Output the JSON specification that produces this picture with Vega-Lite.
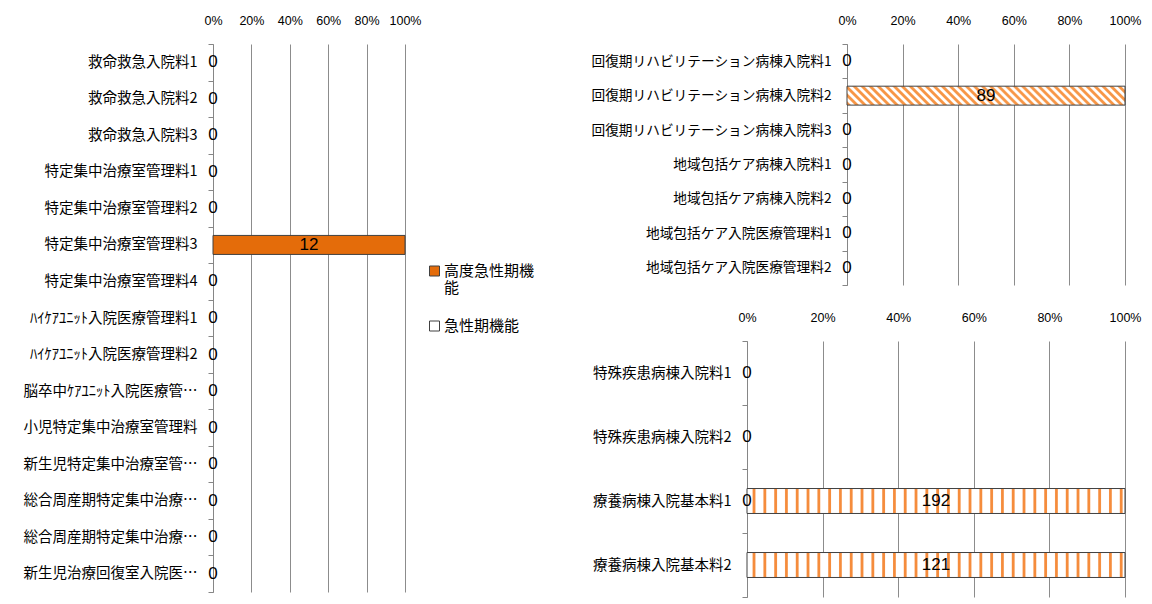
{
  "$schema": "https://vega.github.io/schema/vega-lite/v6.json",
  "background": "#FFFFFF",
  "padding": {"left": 23, "top": 14, "right": 0, "bottom": 0},
  "datasets": {
    "left": [
      {"cat": "救命救急入院料1", "series": "高度急性期機能", "value": 0},
      {"cat": "救命救急入院料2", "series": "高度急性期機能", "value": 0},
      {"cat": "救命救急入院料3", "series": "高度急性期機能", "value": 0},
      {"cat": "特定集中治療室管理料1", "series": "高度急性期機能", "value": 0},
      {"cat": "特定集中治療室管理料2", "series": "高度急性期機能", "value": 0},
      {"cat": "特定集中治療室管理料3", "series": "高度急性期機能", "value": 12},
      {"cat": "特定集中治療室管理料4", "series": "高度急性期機能", "value": 0},
      {"cat": "ﾊｲｹｱﾕﾆｯﾄ入院医療管理料1", "series": "高度急性期機能", "value": 0},
      {"cat": "ﾊｲｹｱﾕﾆｯﾄ入院医療管理料2", "series": "高度急性期機能", "value": 0},
      {"cat": "脳卒中ｹｱﾕﾆｯﾄ入院医療管…", "series": "高度急性期機能", "value": 0},
      {"cat": "小児特定集中治療室管理料", "series": "高度急性期機能", "value": 0},
      {"cat": "新生児特定集中治療室管…", "series": "高度急性期機能", "value": 0},
      {"cat": "総合周産期特定集中治療…", "series": "高度急性期機能", "value": 0},
      {"cat": "総合周産期特定集中治療…\u200b", "series": "高度急性期機能", "value": 0},
      {"cat": "新生児治療回復室入院医…", "series": "高度急性期機能", "value": 0}
    ],
    "tr": [
      {"cat": "回復期リハビリテーション病棟入院料1", "series": "回復期機能", "value": 0},
      {"cat": "回復期リハビリテーション病棟入院料2", "series": "回復期機能", "value": 89},
      {"cat": "回復期リハビリテーション病棟入院料3", "series": "回復期機能", "value": 0},
      {"cat": "地域包括ケア病棟入院料1", "series": "回復期機能", "value": 0},
      {"cat": "地域包括ケア病棟入院料2", "series": "回復期機能", "value": 0},
      {"cat": "地域包括ケア入院医療管理料1", "series": "回復期機能", "value": 0},
      {"cat": "地域包括ケア入院医療管理料2", "series": "回復期機能", "value": 0}
    ],
    "br": [
      {"cat": "特殊疾患病棟入院料1", "series": "慢性期機能", "value": 0},
      {"cat": "特殊疾患病棟入院料2", "series": "慢性期機能", "value": 0},
      {"cat": "療養病棟入院基本料1", "series": "回復期機能", "value": 0},
      {"cat": "療養病棟入院基本料1", "series": "慢性期機能", "value": 192},
      {"cat": "療養病棟入院基本料2", "series": "慢性期機能", "value": 121}
    ]
  },
  "columns": 2,
  "align": "none",
  "spacing": 55,
  "resolve": {"scale": {"color": "independent"}, "legend": {"color": "independent"}},
  "concat": [
    {
      "width": 192,
      "height": 548,
      "data": {"name": "left"},
      "layer": [
        {
          "mark": {"type": "bar", "height": {"band": 0.52}, "stroke": "#404040"},
          "encoding": {
            "y": {"field": "cat", "type": "nominal", "sort": null, "scale": {"paddingInner": 0, "paddingOuter": 0}, "axis": {"title": null}},
            "x": {"field": "value", "type": "quantitative", "stack": "normalize", "scale": {"domain": [0, 1]}, "axis": {"orient": "top", "title": null, "format": ".0%", "values": [0, 0.2, 0.4, 0.6, 0.8, 1]}},
            "strokeWidth": {"condition": {"test": "datum.value == 0", "value": 0}, "value": 1},
            "color": {
              "field": "series", "type": "nominal",
              "scale": {"domain": ["高度急性期機能", "急性期機能"], "range": ["#E46C0A", "#FFFFFF"]},
              "legend": {
                "title": null, "orient": "none", "legendX": 214, "legendY": 212,
                "symbolType": "M-1,0.5H1V2.5H-1Z", "symbolSize": 100, "symbolStrokeColor": "#404040", "symbolStrokeWidth": 1,
                "labelFont": "Noto Sans CJK JP", "labelFontSize": 15, "labelColor": "#000000", "labelLimit": 200,
                "labelExpr": "datum.label == '高度急性期機能' ? ['高度急性期機', '能'] : datum.label",
                "labelBaseline": "top", "labelOffset": 2, "rowPadding": 15
              }
            }
          }
        },
        {
          "mark": {"type": "text", "font": "Liberation Sans", "fontSize": 17, "color": "#000000", "align": "center", "baseline": "middle"},
          "transform": [{"filter": "datum.value == 0"}],
          "encoding": {
            "y": {"field": "cat", "type": "nominal", "sort": null},
            "x": {"datum": 0, "type": "quantitative"},
            "text": {"field": "value", "type": "quantitative"}
          }
        },
        {
          "mark": {"type": "text", "font": "Liberation Sans", "fontSize": 17, "color": "#000000", "align": "center", "baseline": "middle"},
          "transform": [{"filter": "datum.value > 0"}],
          "encoding": {
            "y": {"field": "cat", "type": "nominal", "sort": null},
            "x": {"datum": 0.5, "type": "quantitative"},
            "text": {"field": "value", "type": "quantitative"}
          }
        }
      ]
    },
    {
      "spacing": 25,
      "vconcat": [
        {
          "width": 278,
          "height": 241,
          "data": {"name": "tr"},
          "layer": [
            {
              "mark": {"type": "bar", "height": {"band": 0.55}, "stroke": "#404040"},
              "encoding": {
                "y": {"field": "cat", "type": "nominal", "sort": null, "scale": {"paddingInner": 0, "paddingOuter": 0}, "axis": {"title": null, "labelFontSize": 13.7}},
                "x": {"field": "value", "type": "quantitative", "stack": "normalize", "scale": {"domain": [0, 1]}, "axis": {"orient": "top", "title": null, "format": ".0%", "values": [0, 0.2, 0.4, 0.6, 0.8, 1]}},
                "strokeWidth": {"condition": {"test": "datum.value == 0", "value": 0}, "value": 1},
                "fill": {
                  "condition": {"test": "datum.series === '回復期機能'", "value": {"gradient": "linear", "x1": 0, "y1": 1, "x2": 1.0633, "y2": 0.9274, "stops": [
                    {"offset": 0.0027, "color": "#F79646"}, {"offset": 0.0108, "color": "#F79646"}, {"offset": 0.0162, "color": "#FFFFFF"}, {"offset": 0.0243, "color": "#FFFFFF"},
                    {"offset": 0.0297, "color": "#F79646"}, {"offset": 0.0378, "color": "#F79646"}, {"offset": 0.0432, "color": "#FFFFFF"}, {"offset": 0.0513, "color": "#FFFFFF"},
                    {"offset": 0.0568, "color": "#F79646"}, {"offset": 0.0649, "color": "#F79646"}, {"offset": 0.0703, "color": "#FFFFFF"}, {"offset": 0.0784, "color": "#FFFFFF"},
                    {"offset": 0.0838, "color": "#F79646"}, {"offset": 0.0919, "color": "#F79646"}, {"offset": 0.0973, "color": "#FFFFFF"}, {"offset": 0.1054, "color": "#FFFFFF"},
                    {"offset": 0.1108, "color": "#F79646"}, {"offset": 0.1189, "color": "#F79646"}, {"offset": 0.1243, "color": "#FFFFFF"}, {"offset": 0.1324, "color": "#FFFFFF"},
                    {"offset": 0.1378, "color": "#F79646"}, {"offset": 0.1459, "color": "#F79646"}, {"offset": 0.1514, "color": "#FFFFFF"}, {"offset": 0.1595, "color": "#FFFFFF"},
                    {"offset": 0.1649, "color": "#F79646"}, {"offset": 0.1730, "color": "#F79646"}, {"offset": 0.1784, "color": "#FFFFFF"}, {"offset": 0.1865, "color": "#FFFFFF"},
                    {"offset": 0.1919, "color": "#F79646"}, {"offset": 0.2000, "color": "#F79646"}, {"offset": 0.2054, "color": "#FFFFFF"}, {"offset": 0.2135, "color": "#FFFFFF"},
                    {"offset": 0.2189, "color": "#F79646"}, {"offset": 0.2270, "color": "#F79646"}, {"offset": 0.2324, "color": "#FFFFFF"}, {"offset": 0.2405, "color": "#FFFFFF"},
                    {"offset": 0.2459, "color": "#F79646"}, {"offset": 0.2541, "color": "#F79646"}, {"offset": 0.2595, "color": "#FFFFFF"}, {"offset": 0.2676, "color": "#FFFFFF"},
                    {"offset": 0.2730, "color": "#F79646"}, {"offset": 0.2811, "color": "#F79646"}, {"offset": 0.2865, "color": "#FFFFFF"}, {"offset": 0.2946, "color": "#FFFFFF"},
                    {"offset": 0.3000, "color": "#F79646"}, {"offset": 0.3081, "color": "#F79646"}, {"offset": 0.3135, "color": "#FFFFFF"}, {"offset": 0.3216, "color": "#FFFFFF"},
                    {"offset": 0.3270, "color": "#F79646"}, {"offset": 0.3351, "color": "#F79646"}, {"offset": 0.3405, "color": "#FFFFFF"}, {"offset": 0.3486, "color": "#FFFFFF"},
                    {"offset": 0.3541, "color": "#F79646"}, {"offset": 0.3622, "color": "#F79646"}, {"offset": 0.3676, "color": "#FFFFFF"}, {"offset": 0.3757, "color": "#FFFFFF"},
                    {"offset": 0.3811, "color": "#F79646"}, {"offset": 0.3892, "color": "#F79646"}, {"offset": 0.3946, "color": "#FFFFFF"}, {"offset": 0.4027, "color": "#FFFFFF"},
                    {"offset": 0.4081, "color": "#F79646"}, {"offset": 0.4162, "color": "#F79646"}, {"offset": 0.4216, "color": "#FFFFFF"}, {"offset": 0.4297, "color": "#FFFFFF"},
                    {"offset": 0.4351, "color": "#F79646"}, {"offset": 0.4432, "color": "#F79646"}, {"offset": 0.4486, "color": "#FFFFFF"}, {"offset": 0.4568, "color": "#FFFFFF"},
                    {"offset": 0.4622, "color": "#F79646"}, {"offset": 0.4703, "color": "#F79646"}, {"offset": 0.4757, "color": "#FFFFFF"}, {"offset": 0.4838, "color": "#FFFFFF"},
                    {"offset": 0.4892, "color": "#F79646"}, {"offset": 0.4973, "color": "#F79646"}, {"offset": 0.5027, "color": "#FFFFFF"}, {"offset": 0.5108, "color": "#FFFFFF"},
                    {"offset": 0.5162, "color": "#F79646"}, {"offset": 0.5243, "color": "#F79646"}, {"offset": 0.5297, "color": "#FFFFFF"}, {"offset": 0.5378, "color": "#FFFFFF"},
                    {"offset": 0.5432, "color": "#F79646"}, {"offset": 0.5514, "color": "#F79646"}, {"offset": 0.5568, "color": "#FFFFFF"}, {"offset": 0.5649, "color": "#FFFFFF"},
                    {"offset": 0.5703, "color": "#F79646"}, {"offset": 0.5784, "color": "#F79646"}, {"offset": 0.5838, "color": "#FFFFFF"}, {"offset": 0.5919, "color": "#FFFFFF"},
                    {"offset": 0.5973, "color": "#F79646"}, {"offset": 0.6054, "color": "#F79646"}, {"offset": 0.6108, "color": "#FFFFFF"}, {"offset": 0.6189, "color": "#FFFFFF"},
                    {"offset": 0.6243, "color": "#F79646"}, {"offset": 0.6324, "color": "#F79646"}, {"offset": 0.6378, "color": "#FFFFFF"}, {"offset": 0.6459, "color": "#FFFFFF"},
                    {"offset": 0.6514, "color": "#F79646"}, {"offset": 0.6595, "color": "#F79646"}, {"offset": 0.6649, "color": "#FFFFFF"}, {"offset": 0.6730, "color": "#FFFFFF"},
                    {"offset": 0.6784, "color": "#F79646"}, {"offset": 0.6865, "color": "#F79646"}, {"offset": 0.6919, "color": "#FFFFFF"}, {"offset": 0.7000, "color": "#FFFFFF"},
                    {"offset": 0.7054, "color": "#F79646"}, {"offset": 0.7135, "color": "#F79646"}, {"offset": 0.7189, "color": "#FFFFFF"}, {"offset": 0.7270, "color": "#FFFFFF"},
                    {"offset": 0.7324, "color": "#F79646"}, {"offset": 0.7405, "color": "#F79646"}, {"offset": 0.7459, "color": "#FFFFFF"}, {"offset": 0.7541, "color": "#FFFFFF"},
                    {"offset": 0.7595, "color": "#F79646"}, {"offset": 0.7676, "color": "#F79646"}, {"offset": 0.7730, "color": "#FFFFFF"}, {"offset": 0.7811, "color": "#FFFFFF"},
                    {"offset": 0.7865, "color": "#F79646"}, {"offset": 0.7946, "color": "#F79646"}, {"offset": 0.8000, "color": "#FFFFFF"}, {"offset": 0.8081, "color": "#FFFFFF"},
                    {"offset": 0.8135, "color": "#F79646"}, {"offset": 0.8216, "color": "#F79646"}, {"offset": 0.8270, "color": "#FFFFFF"}, {"offset": 0.8351, "color": "#FFFFFF"},
                    {"offset": 0.8405, "color": "#F79646"}, {"offset": 0.8486, "color": "#F79646"}, {"offset": 0.8541, "color": "#FFFFFF"}, {"offset": 0.8622, "color": "#FFFFFF"},
                    {"offset": 0.8676, "color": "#F79646"}, {"offset": 0.8757, "color": "#F79646"}, {"offset": 0.8811, "color": "#FFFFFF"}, {"offset": 0.8892, "color": "#FFFFFF"},
                    {"offset": 0.8946, "color": "#F79646"}, {"offset": 0.9027, "color": "#F79646"}, {"offset": 0.9081, "color": "#FFFFFF"}, {"offset": 0.9162, "color": "#FFFFFF"},
                    {"offset": 0.9216, "color": "#F79646"}, {"offset": 0.9297, "color": "#F79646"}, {"offset": 0.9351, "color": "#FFFFFF"}, {"offset": 0.9432, "color": "#FFFFFF"},
                    {"offset": 0.9486, "color": "#F79646"}, {"offset": 0.9568, "color": "#F79646"}, {"offset": 0.9622, "color": "#FFFFFF"}, {"offset": 0.9703, "color": "#FFFFFF"},
                    {"offset": 0.9757, "color": "#F79646"}, {"offset": 0.9838, "color": "#F79646"}, {"offset": 0.9892, "color": "#FFFFFF"}, {"offset": 0.9973, "color": "#FFFFFF"}
                  ]}},
                  "value": "#F58C3C"
                }
              }
            },
            {
              "mark": {"type": "text", "font": "Liberation Sans", "fontSize": 17, "color": "#000000", "align": "center", "baseline": "middle"},
              "transform": [{"filter": "datum.value == 0"}],
              "encoding": {
                "y": {"field": "cat", "type": "nominal", "sort": null},
                "x": {"datum": 0, "type": "quantitative"},
                "text": {"field": "value", "type": "quantitative"}
              }
            },
            {
              "mark": {"type": "text", "font": "Liberation Sans", "fontSize": 17, "color": "#000000", "align": "center", "baseline": "middle"},
              "transform": [{"filter": "datum.value > 0"}],
              "encoding": {
                "y": {"field": "cat", "type": "nominal", "sort": null},
                "x": {"datum": 0.5, "type": "quantitative"},
                "text": {"field": "value", "type": "quantitative"}
              }
            }
          ]
        },
        {
          "width": 278,
          "height": 256,
          "data": {"name": "br"},
          "layer": [
            {
              "mark": {"type": "bar", "height": {"band": 0.39}, "stroke": "#404040"},
              "encoding": {
                "y": {"field": "cat", "type": "nominal", "sort": null, "scale": {"paddingInner": 0, "paddingOuter": 0}, "axis": {"title": null, "offset": 100}},
                "x": {"field": "value", "type": "quantitative", "stack": "normalize", "scale": {"domain": [0, 1], "range": [-100, 278]}, "axis": {"orient": "top", "title": null, "format": ".0%", "values": [0, 0.2, 0.4, 0.6, 0.8, 1]}},
                "strokeWidth": {"condition": {"test": "datum.value == 0", "value": 0}, "value": 1},
                "fill": {
                  "condition": {"test": "datum.series === '回復期機能'", "value": "#F79646"},
                  "value": {"gradient": "linear", "x1": 0, "y1": 0, "x2": 1, "y2": 0, "stops": [
                    {"offset": 0.0134, "color": "#FFFFFF"}, {"offset": 0.0163, "color": "#F58C3C"}, {"offset": 0.0209, "color": "#F58C3C"}, {"offset": 0.0237, "color": "#FFFFFF"},
                    {"offset": 0.0420, "color": "#FFFFFF"}, {"offset": 0.0449, "color": "#F58C3C"}, {"offset": 0.0494, "color": "#F58C3C"}, {"offset": 0.0523, "color": "#FFFFFF"},
                    {"offset": 0.0706, "color": "#FFFFFF"}, {"offset": 0.0734, "color": "#F58C3C"}, {"offset": 0.0780, "color": "#F58C3C"}, {"offset": 0.0809, "color": "#FFFFFF"},
                    {"offset": 0.0991, "color": "#FFFFFF"}, {"offset": 0.1020, "color": "#F58C3C"}, {"offset": 0.1066, "color": "#F58C3C"}, {"offset": 0.1094, "color": "#FFFFFF"},
                    {"offset": 0.1277, "color": "#FFFFFF"}, {"offset": 0.1306, "color": "#F58C3C"}, {"offset": 0.1351, "color": "#F58C3C"}, {"offset": 0.1380, "color": "#FFFFFF"},
                    {"offset": 0.1563, "color": "#FFFFFF"}, {"offset": 0.1591, "color": "#F58C3C"}, {"offset": 0.1637, "color": "#F58C3C"}, {"offset": 0.1666, "color": "#FFFFFF"},
                    {"offset": 0.1849, "color": "#FFFFFF"}, {"offset": 0.1877, "color": "#F58C3C"}, {"offset": 0.1923, "color": "#F58C3C"}, {"offset": 0.1951, "color": "#FFFFFF"},
                    {"offset": 0.2134, "color": "#FFFFFF"}, {"offset": 0.2163, "color": "#F58C3C"}, {"offset": 0.2209, "color": "#F58C3C"}, {"offset": 0.2237, "color": "#FFFFFF"},
                    {"offset": 0.2420, "color": "#FFFFFF"}, {"offset": 0.2449, "color": "#F58C3C"}, {"offset": 0.2494, "color": "#F58C3C"}, {"offset": 0.2523, "color": "#FFFFFF"},
                    {"offset": 0.2706, "color": "#FFFFFF"}, {"offset": 0.2734, "color": "#F58C3C"}, {"offset": 0.2780, "color": "#F58C3C"}, {"offset": 0.2809, "color": "#FFFFFF"},
                    {"offset": 0.2991, "color": "#FFFFFF"}, {"offset": 0.3020, "color": "#F58C3C"}, {"offset": 0.3066, "color": "#F58C3C"}, {"offset": 0.3094, "color": "#FFFFFF"},
                    {"offset": 0.3277, "color": "#FFFFFF"}, {"offset": 0.3306, "color": "#F58C3C"}, {"offset": 0.3351, "color": "#F58C3C"}, {"offset": 0.3380, "color": "#FFFFFF"},
                    {"offset": 0.3563, "color": "#FFFFFF"}, {"offset": 0.3591, "color": "#F58C3C"}, {"offset": 0.3637, "color": "#F58C3C"}, {"offset": 0.3666, "color": "#FFFFFF"},
                    {"offset": 0.3849, "color": "#FFFFFF"}, {"offset": 0.3877, "color": "#F58C3C"}, {"offset": 0.3923, "color": "#F58C3C"}, {"offset": 0.3951, "color": "#FFFFFF"},
                    {"offset": 0.4134, "color": "#FFFFFF"}, {"offset": 0.4163, "color": "#F58C3C"}, {"offset": 0.4209, "color": "#F58C3C"}, {"offset": 0.4237, "color": "#FFFFFF"},
                    {"offset": 0.4420, "color": "#FFFFFF"}, {"offset": 0.4449, "color": "#F58C3C"}, {"offset": 0.4494, "color": "#F58C3C"}, {"offset": 0.4523, "color": "#FFFFFF"},
                    {"offset": 0.4706, "color": "#FFFFFF"}, {"offset": 0.4734, "color": "#F58C3C"}, {"offset": 0.4780, "color": "#F58C3C"}, {"offset": 0.4809, "color": "#FFFFFF"},
                    {"offset": 0.4991, "color": "#FFFFFF"}, {"offset": 0.5020, "color": "#F58C3C"}, {"offset": 0.5066, "color": "#F58C3C"}, {"offset": 0.5094, "color": "#FFFFFF"},
                    {"offset": 0.5277, "color": "#FFFFFF"}, {"offset": 0.5306, "color": "#F58C3C"}, {"offset": 0.5351, "color": "#F58C3C"}, {"offset": 0.5380, "color": "#FFFFFF"},
                    {"offset": 0.5563, "color": "#FFFFFF"}, {"offset": 0.5591, "color": "#F58C3C"}, {"offset": 0.5637, "color": "#F58C3C"}, {"offset": 0.5666, "color": "#FFFFFF"},
                    {"offset": 0.5849, "color": "#FFFFFF"}, {"offset": 0.5877, "color": "#F58C3C"}, {"offset": 0.5923, "color": "#F58C3C"}, {"offset": 0.5951, "color": "#FFFFFF"},
                    {"offset": 0.6134, "color": "#FFFFFF"}, {"offset": 0.6163, "color": "#F58C3C"}, {"offset": 0.6209, "color": "#F58C3C"}, {"offset": 0.6237, "color": "#FFFFFF"},
                    {"offset": 0.6420, "color": "#FFFFFF"}, {"offset": 0.6449, "color": "#F58C3C"}, {"offset": 0.6494, "color": "#F58C3C"}, {"offset": 0.6523, "color": "#FFFFFF"},
                    {"offset": 0.6706, "color": "#FFFFFF"}, {"offset": 0.6734, "color": "#F58C3C"}, {"offset": 0.6780, "color": "#F58C3C"}, {"offset": 0.6809, "color": "#FFFFFF"},
                    {"offset": 0.6991, "color": "#FFFFFF"}, {"offset": 0.7020, "color": "#F58C3C"}, {"offset": 0.7066, "color": "#F58C3C"}, {"offset": 0.7094, "color": "#FFFFFF"},
                    {"offset": 0.7277, "color": "#FFFFFF"}, {"offset": 0.7306, "color": "#F58C3C"}, {"offset": 0.7351, "color": "#F58C3C"}, {"offset": 0.7380, "color": "#FFFFFF"},
                    {"offset": 0.7563, "color": "#FFFFFF"}, {"offset": 0.7591, "color": "#F58C3C"}, {"offset": 0.7637, "color": "#F58C3C"}, {"offset": 0.7666, "color": "#FFFFFF"},
                    {"offset": 0.7849, "color": "#FFFFFF"}, {"offset": 0.7877, "color": "#F58C3C"}, {"offset": 0.7923, "color": "#F58C3C"}, {"offset": 0.7951, "color": "#FFFFFF"},
                    {"offset": 0.8134, "color": "#FFFFFF"}, {"offset": 0.8163, "color": "#F58C3C"}, {"offset": 0.8209, "color": "#F58C3C"}, {"offset": 0.8237, "color": "#FFFFFF"},
                    {"offset": 0.8420, "color": "#FFFFFF"}, {"offset": 0.8449, "color": "#F58C3C"}, {"offset": 0.8494, "color": "#F58C3C"}, {"offset": 0.8523, "color": "#FFFFFF"},
                    {"offset": 0.8706, "color": "#FFFFFF"}, {"offset": 0.8734, "color": "#F58C3C"}, {"offset": 0.8780, "color": "#F58C3C"}, {"offset": 0.8809, "color": "#FFFFFF"},
                    {"offset": 0.8991, "color": "#FFFFFF"}, {"offset": 0.9020, "color": "#F58C3C"}, {"offset": 0.9066, "color": "#F58C3C"}, {"offset": 0.9094, "color": "#FFFFFF"},
                    {"offset": 0.9277, "color": "#FFFFFF"}, {"offset": 0.9306, "color": "#F58C3C"}, {"offset": 0.9351, "color": "#F58C3C"}, {"offset": 0.9380, "color": "#FFFFFF"},
                    {"offset": 0.9563, "color": "#FFFFFF"}, {"offset": 0.9591, "color": "#F58C3C"}, {"offset": 0.9637, "color": "#F58C3C"}, {"offset": 0.9666, "color": "#FFFFFF"},
                    {"offset": 0.9849, "color": "#FFFFFF"}, {"offset": 0.9877, "color": "#F58C3C"}, {"offset": 0.9923, "color": "#F58C3C"}, {"offset": 0.9951, "color": "#FFFFFF"}
                  ]}
                }
              }
            },
            {
              "mark": {"type": "text", "font": "Liberation Sans", "fontSize": 17, "color": "#000000", "align": "center", "baseline": "middle"},
              "transform": [{"filter": "datum.value == 0"}],
              "encoding": {
                "y": {"field": "cat", "type": "nominal", "sort": null},
                "x": {"datum": 0, "type": "quantitative"},
                "text": {"field": "value", "type": "quantitative"}
              }
            },
            {
              "mark": {"type": "text", "font": "Liberation Sans", "fontSize": 17, "color": "#000000", "align": "center", "baseline": "middle"},
              "transform": [{"filter": "datum.value > 0"}],
              "encoding": {
                "y": {"field": "cat", "type": "nominal", "sort": null},
                "x": {"datum": 0.5, "type": "quantitative"},
                "text": {"field": "value", "type": "quantitative"}
              }
            }
          ]
        }
      ]
    }
  ],
  "config": {
    "view": {"stroke": null},
    "font": "Noto Sans CJK JP",
    "axisX": {"grid": true, "gridColor": "#8C8C8C", "gridWidth": 1, "domain": false, "ticks": false, "tickSize": 0, "tickCount": 10, "labelPadding": 17, "labelOverlap": false, "labelBound": false, "labelFlush": false, "labelFont": "Liberation Sans", "labelFontSize": 12.5, "labelColor": "#000000"},
    "axisY": {"tickBand": "extent", "grid": false, "domainColor": "#868686", "tickColor": "#868686", "tickSize": 5, "labelPadding": 11, "labelFont": "Noto Sans CJK JP", "labelFontSize": 14.5, "labelColor": "#000000", "labelLimit": 400}
  }
}
